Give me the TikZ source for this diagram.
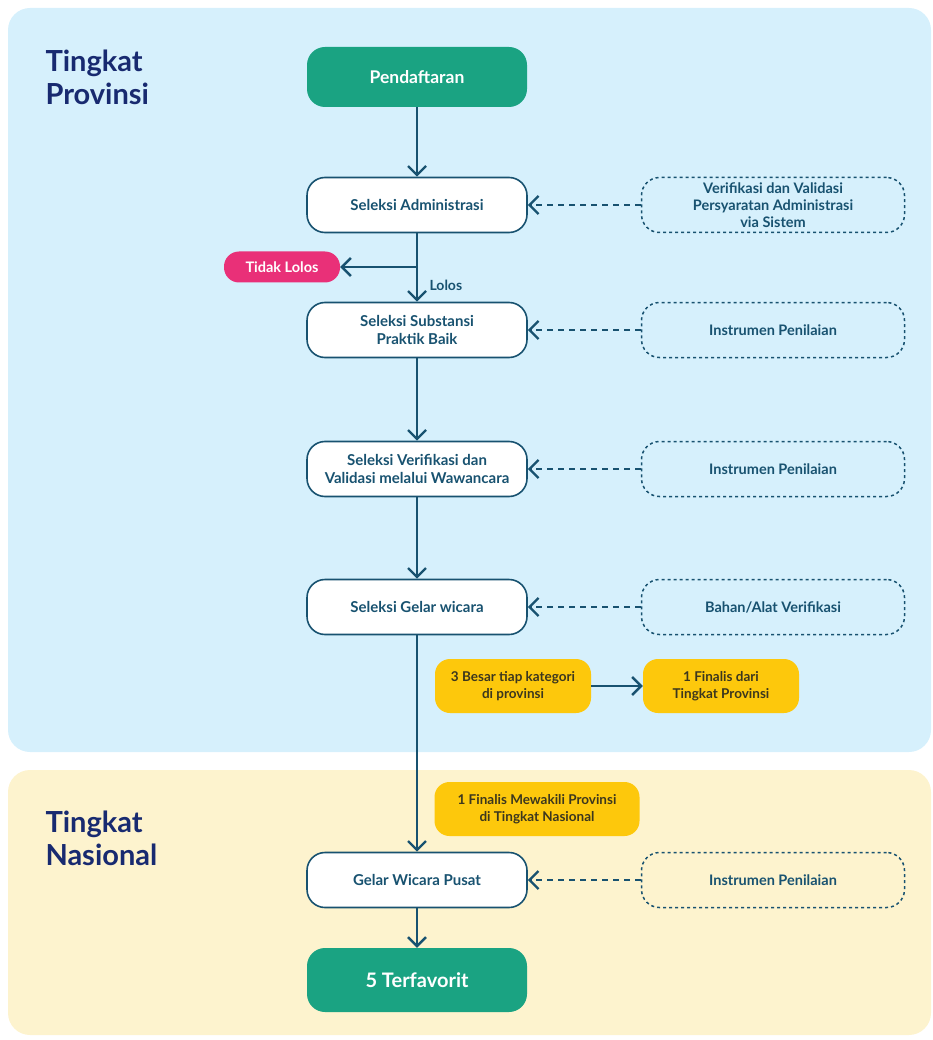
\documentclass[tikz,border=0pt]{standalone}
\usepackage{fontspec}
\setmainfont{Lato}
\usetikzlibrary{arrows.meta}

\definecolor{panelblue}{RGB}{214,240,252}
\definecolor{panelyellow}{RGB}{253,243,206}
\definecolor{navy}{RGB}{24,42,112}
\definecolor{teal}{RGB}{24,82,112}
\definecolor{green}{RGB}{26,163,130}
\definecolor{pink}{RGB}{233,48,120}
\definecolor{gold}{RGB}{253,200,12}
\definecolor{goldtext}{RGB}{60,55,30}

\begin{document}
\begin{tikzpicture}
[x=1pt,y=-1pt,>={Straight Barb[length=9pt,width=18pt,line width=2.4pt]},
stage/.style={draw=teal,line width=1.6pt,fill=white,rounded corners=18pt,minimum width=220pt,minimum height=55pt,align=center,text=teal,font=\fontsize{15}{18}\selectfont\bfseries},
goal/.style={fill=green,rounded corners=18pt,minimum width=220pt,minimum height=60pt,align=center,text=white,font=\fontsize{17.5}{20}\selectfont\bfseries},
tool/.style={draw=teal,line width=1.5pt,dash pattern=on 3pt off 3pt,rounded corners=18pt,minimum width=263pt,minimum height=55pt,align=center,text=teal,font=\fontsize{14.5}{17}\selectfont\bfseries},
note/.style={fill=gold,rounded corners=15pt,minimum height=54pt,align=center,text=goldtext,font=\fontsize{13.5}{17}\selectfont\bfseries},
level/.style={anchor=north west,align=left,text=navy,font=\fontsize{29}{33}\selectfont\bfseries},
flow/.style={draw=teal,line width=2.4pt},
hint/.style={draw=teal,line width=2.2pt,dash pattern=on 6pt off 5pt},
]
\useasboundingbox (0,0) rectangle (932,1040);

%Panels
\fill[panelblue,rounded corners=22pt] (8,8) rectangle (931,752);
\fill[panelyellow,rounded corners=22pt] (8,770) rectangle (931,1035);

%Level titles
\node (prov) at (42,46)[level] {Tingkat\\Provinsi};
\node (nas) at (42,807)[level] {Tingkat\\Nasional};

%Main stages
\node (daftar) at (417,77)[goal] {Pendaftaran};
\node (adm) at (417,205)[stage] {Seleksi Administrasi};
\node (subs) at (417,330)[stage] {Seleksi Substansi\\Praktik Baik};
\node (wawan) at (417,469)[stage] {Seleksi Verifikasi dan\\Validasi melalui Wawancara};
\node (gelar) at (417,607)[stage] {Seleksi Gelar wicara};
\node (pusat) at (417,880)[stage] {Gelar Wicara Pusat};
\node (favorit) at (417,980)[goal,minimum height=64pt,font=\fontsize{20}{23}\selectfont\bfseries] {5 Terfavorit};

%Side instruments
\node (sistem) at (773,205)[tool] {Verifikasi dan Validasi\\Persyaratan Administrasi\\via Sistem};
\node (instr1) at (773,330)[tool] {Instrumen Penilaian};
\node (instr2) at (773,469)[tool] {Instrumen Penilaian};
\node (bahan) at (773,607)[tool] {Bahan/Alat Verifikasi};
\node (instr3) at (773,880)[tool] {Instrumen Penilaian};

%Outcomes
\node (gagal) at (282,267)[fill=pink,rounded corners=15pt,minimum width=116pt,minimum height=31pt,text=white,font=\fontsize{14.5}{17}\selectfont\bfseries] {Tidak Lolos};
\node (besar) at (513,686)[note,minimum width=156pt] {3 Besar tiap kategori\\di provinsi};
\node (finalis) at (721,686)[note,minimum width=156pt] {1 Finalis dari\\Tingkat Provinsi};
\node (wakil) at (537,809)[note,minimum width=205pt] {1 Finalis Mewakili Provinsi\\di Tingkat Nasional};

%Flow
\coordinate (cabang) at (417,267);
\draw[flow,->] (daftar) -- (adm);
\draw[flow] (adm) -- (cabang);
\draw[flow,->] (cabang) -- (gagal);
\draw[flow,->] (cabang) -- node[right,xshift=8pt,yshift=-1pt,text=teal,font=\fontsize{14}{17}\selectfont\bfseries] {Lolos} (subs);
\draw[flow,->] (subs) -- (wawan);
\draw[flow,->] (wawan) -- (gelar);
\draw[flow,->] (gelar) -- (pusat);
\draw[flow,->] (pusat) -- (favorit);
\draw[flow,->] (besar) -- (finalis);

%Dashed links
\draw[hint,->] (sistem) -- (adm);
\draw[hint,->] (instr1) -- (subs);
\draw[hint,->] (instr2) -- (wawan);
\draw[hint,->] (bahan) -- (gelar);
\draw[hint,->] (instr3) -- (pusat);

\end{tikzpicture}
\end{document}
